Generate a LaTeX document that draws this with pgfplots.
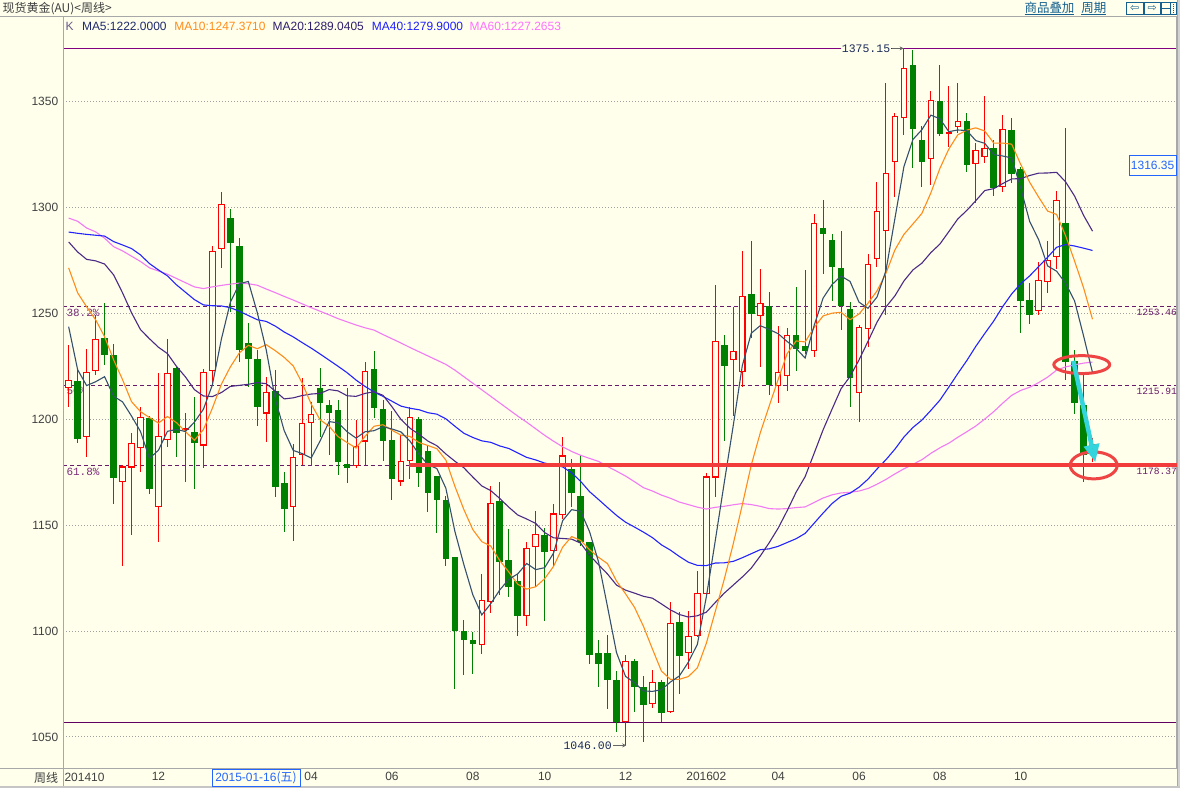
\documentclass[border=0pt]{standalone}
\usepackage{fontspec}
\setmainfont{Liberation Sans}
\newfontfamily\cjk{Noto Sans CJK SC}
\newfontfamily\mono{Liberation Mono}
\newfontfamily\djv{DejaVu Sans}
\usepackage{pgfplots}
\pgfplotsset{compat=1.18}
\usepackage{pgfplotstable}
\usetikzlibrary{arrows.meta}

\definecolor{bg}{HTML}{FFFFEC}
\definecolor{framec}{HTML}{A8A8A8}
\definecolor{gridc}{HTML}{A0A0A0}
\definecolor{levc}{HTML}{6A1A6A}
\definecolor{levtc}{HTML}{7A2A7A}
\definecolor{topc}{HTML}{800080}
\definecolor{botc}{HTML}{600060}
\definecolor{cred}{HTML}{FF0000}
\definecolor{cgreen}{HTML}{008000}
\definecolor{ma5c}{HTML}{34506E}
\definecolor{ma10c}{HTML}{FF8C1A}
\definecolor{ma20c}{HTML}{4B2A85}
\definecolor{ma40c}{HTML}{2323FF}
\definecolor{ma60c}{HTML}{F27AF2}
\definecolor{hlc}{HTML}{F23C3C}
\definecolor{ellc}{HTML}{EE4444}
\definecolor{arrowc}{HTML}{33D4DC}
\definecolor{tickc}{HTML}{404040}
\definecolor{linkc}{HTML}{15608F}
\definecolor{hlbox}{HTML}{2266FF}
\definecolor{navy}{HTML}{1A2A5A}
\definecolor{kc}{HTML}{6A5A8A}
\definecolor{ma5t}{HTML}{1E2A6E}
\definecolor{ma20t}{HTML}{2E1E6E}
\definecolor{ma40t}{HTML}{1E1EFF}
\definecolor{ma60t}{HTML}{FF70FF}

\pgfplotsset{candle/.style={only marks, mark=*, mark size=0pt,
  mark options={draw=none, fill=none},
  error bars/.cd, y dir=both, y explicit, error mark=none}}

% weekly candles, up (close > open)
\pgfplotstableread{
i O H L C
1 1214.9 1235.2 1206.0 1218.7
3 1191.4 1233.3 1182.4 1222.5
4 1222.9 1249.3 1221.0 1238.0
7 1170.2 1178.6 1130.6 1177.7
8 1177.2 1193.7 1145.2 1189.0
9 1186.2 1206.0 1174.9 1201.3
11 1158.4 1222.0 1141.9 1192.3
12 1190.4 1238.0 1187.1 1222.0
14 1195.1 1203.1 1170.2 1196.1
16 1187.6 1223.9 1177.2 1222.5
17 1222.9 1281.8 1216.8 1279.5
18 1280.4 1307.3 1271.5 1301.6
23 1202.7 1220.1 1189.5 1213.0
26 1158.4 1188.1 1142.4 1182.4
27 1182.9 1219.6 1178.6 1198.4
28 1198.4 1208.3 1177.7 1202.7
33 1177.7 1199.8 1176.8 1187.6
34 1189.5 1227.2 1178.6 1222.9
38 1170.6 1192.8 1168.3 1180.5
39 1180.5 1206.0 1171.6 1201.3
47 1093.4 1126.8 1089.1 1114.6
48 1113.6 1168.3 1108.4 1160.3
52 1107.0 1141.9 1102.3 1139.1
53 1139.5 1156.5 1120.7 1145.7
55 1137.6 1159.8 1130.1 1155.5
56 1154.6 1191.4 1152.7 1182.9
63 1057.1 1088.6 1046.0 1085.8
66 1065.5 1081.6 1063.7 1075.9
68 1061.8 1113.6 1061.3 1103.7
70 1089.6 1109.4 1082.0 1097.6
71 1097.6 1128.2 1097.1 1117.9
72 1117.4 1174.4 1116.4 1173.0
73 1172.5 1263.5 1163.1 1237.1
75 1228.1 1253.1 1201.7 1232.4
76 1222.5 1279.5 1215.4 1258.3
78 1248.8 1271.0 1224.8 1255.0
80 1215.9 1244.1 1207.9 1222.5
81 1220.6 1243.2 1213.5 1239.9
84 1232.4 1296.9 1229.5 1292.7
89 1212.6 1244.6 1198.9 1243.7
90 1242.7 1278.1 1234.2 1273.3
91 1275.7 1312.0 1271.9 1298.3
92 1288.9 1358.6 1249.3 1316.2
93 1321.4 1344.5 1304.9 1343.1
94 1342.1 1375.1 1334.1 1365.7
97 1322.8 1354.9 1310.6 1350.6
99 1334.6 1357.2 1328.5 1335.5
100 1337.9 1358.6 1335.1 1340.7
102 1320.5 1330.4 1302.1 1327.1
103 1323.8 1352.5 1320.9 1328.0
105 1309.6 1343.6 1307.3 1337.0
109 1251.2 1274.3 1249.3 1265.8
110 1264.9 1284.2 1259.7 1275.2
111 1276.7 1307.7 1271.0 1303.5
115 1184.0 1191.0 1180.0 1188.1
}\uptab

% weekly candles, down (close < open)
\pgfplotstableread{
i O H L C
2 1218.2 1223.4 1189.0 1190.9
5 1238.5 1255.0 1225.8 1230.5
6 1230.5 1235.7 1159.8 1172.5
10 1200.8 1201.7 1164.5 1166.9
13 1224.3 1224.8 1182.4 1193.7
15 1194.2 1210.7 1166.9 1189.0
19 1295.0 1299.3 1250.7 1283.2
20 1281.8 1285.6 1227.2 1232.8
21 1236.1 1245.5 1215.4 1228.6
22 1228.6 1232.8 1197.0 1206.0
24 1213.5 1223.4 1163.1 1167.8
25 1169.7 1175.3 1146.6 1157.4
29 1214.9 1224.3 1191.8 1207.9
30 1206.9 1209.3 1182.9 1203.1
31 1204.6 1209.3 1173.5 1179.6
32 1179.1 1214.9 1169.7 1177.2
35 1223.9 1232.4 1200.8 1205.5
36 1205.0 1209.3 1180.1 1189.5
37 1190.4 1204.1 1161.7 1171.6
40 1200.3 1201.3 1167.8 1174.4
41 1184.8 1187.6 1156.0 1165.4
42 1173.0 1173.0 1146.1 1162.1
43 1162.1 1163.6 1130.6 1133.9
44 1134.8 1134.8 1072.6 1099.9
45 1099.9 1105.1 1079.2 1095.7
46 1095.7 1099.5 1079.7 1093.8
49 1161.2 1170.2 1116.9 1132.5
50 1133.4 1148.0 1116.0 1120.7
51 1123.5 1126.8 1097.6 1107.0
54 1145.2 1148.5 1104.7 1137.2
57 1176.3 1181.0 1158.4 1165.4
58 1164.0 1182.9 1140.0 1141.9
59 1141.9 1141.9 1084.4 1088.6
60 1089.6 1095.7 1073.6 1084.4
61 1089.6 1098.1 1063.2 1076.9
62 1076.9 1081.1 1052.4 1057.1
64 1085.8 1086.8 1061.8 1073.6
65 1073.6 1078.7 1047.5 1065.1
67 1075.9 1076.9 1057.1 1061.3
69 1104.2 1108.9 1070.3 1088.2
74 1235.2 1239.9 1189.9 1225.3
77 1259.2 1284.2 1238.5 1249.8
79 1253.6 1260.2 1211.6 1216.3
82 1239.9 1262.5 1222.9 1233.3
83 1234.7 1270.5 1230.9 1232.4
85 1290.3 1303.5 1268.6 1287.5
86 1284.7 1287.5 1255.9 1271.9
87 1271.5 1288.9 1242.2 1253.6
88 1252.1 1255.4 1206.0 1219.6
95 1367.1 1374.5 1318.6 1337.0
96 1331.8 1338.4 1309.6 1321.4
98 1350.2 1367.1 1333.7 1334.6
101 1340.7 1344.5 1316.7 1320.0
104 1328.0 1331.8 1305.4 1309.2
106 1336.5 1342.1 1311.5 1315.8
107 1318.1 1319.1 1240.8 1255.9
108 1256.4 1264.4 1245.1 1249.3
112 1292.7 1337.4 1218.7 1227.2
113 1227.6 1232.8 1202.7 1207.9
114 1206.9 1221.0 1170.2 1183.3
}\downtab

% moving averages
\pgfplotstableread{
i m5 m10 m20 m40 m60
1 1243.7 1271.5 1283.7 1288.4 1295.0
2 1223.4 1259.7 1279.0 1287.8 1293.5
3 1215.9 1253.1 1275.5 1287.3 1290.3
4 1217.7 1247.0 1274.8 1286.9 1288.5
5 1220.1 1239.0 1273.3 1286.5 1285.5
6 1210.9 1228.1 1268.2 1283.9 1281.5
7 1208.2 1218.7 1259.7 1282.3 1279.5
8 1201.5 1208.3 1250.3 1280.6 1277.0
9 1194.2 1203.6 1242.3 1277.6 1274.5
10 1181.5 1200.8 1238.0 1273.5 1271.5
11 1185.4 1198.2 1234.0 1270.5 1270.0
12 1194.3 1201.3 1231.0 1267.7 1268.5
13 1195.2 1198.4 1225.0 1263.5 1266.5
14 1194.2 1194.2 1220.0 1260.0 1264.5
15 1198.6 1190.1 1214.0 1256.5 1262.5
16 1204.7 1195.1 1211.0 1254.0 1261.7
17 1216.2 1205.2 1210.7 1253.6 1262.5
18 1237.7 1216.5 1212.6 1253.5 1263.2
19 1255.2 1224.7 1215.5 1252.7 1263.8
20 1263.9 1231.3 1216.0 1251.0 1264.3
21 1265.1 1234.9 1216.5 1249.0 1264.0
22 1250.4 1233.3 1217.3 1247.0 1263.3
23 1232.7 1235.2 1216.8 1246.2 1261.5
24 1209.6 1232.4 1213.3 1244.0 1259.8
25 1194.6 1229.2 1209.6 1241.2 1258.0
26 1185.3 1225.2 1210.1 1238.9 1256.3
27 1183.8 1217.1 1211.2 1236.2 1254.5
28 1181.7 1207.2 1211.9 1233.6 1252.7
29 1189.8 1199.7 1212.2 1230.8 1251.0
30 1198.9 1196.7 1214.0 1227.9 1249.3
31 1198.3 1191.8 1213.4 1225.0 1247.5
32 1194.1 1189.0 1211.1 1222.0 1246.0
33 1191.1 1186.4 1210.8 1218.5 1244.5
34 1194.1 1191.9 1212.2 1215.5 1243.2
35 1194.6 1196.7 1213.0 1212.9 1242.1
36 1196.5 1197.4 1211.3 1210.8 1240.0
37 1195.4 1194.8 1205.9 1208.5 1238.0
38 1194.0 1192.5 1199.9 1206.2 1236.0
39 1189.7 1191.9 1195.8 1205.2 1233.9
40 1183.5 1189.0 1192.9 1204.5 1231.9
41 1178.6 1187.6 1189.7 1203.1 1229.9
42 1176.7 1186.1 1187.5 1202.4 1227.9
43 1167.4 1180.7 1183.6 1200.2 1225.9
44 1147.1 1168.4 1180.2 1196.7 1223.2
45 1131.4 1157.4 1177.1 1193.4 1220.1
46 1117.1 1147.9 1172.7 1191.4 1217.0
47 1107.6 1142.2 1168.5 1189.8 1213.9
48 1112.9 1140.1 1166.3 1189.1 1210.8
49 1119.4 1133.3 1162.6 1187.4 1207.7
50 1124.4 1127.9 1158.5 1186.2 1204.6
51 1127.0 1122.1 1154.8 1184.1 1201.5
52 1131.9 1119.8 1152.9 1182.0 1198.6
53 1129.0 1120.9 1150.8 1180.8 1195.5
54 1129.9 1124.7 1146.5 1179.3 1192.4
55 1136.9 1130.6 1144.0 1178.5 1189.6
56 1152.1 1139.6 1143.7 1177.5 1187.0
57 1157.3 1144.6 1143.4 1174.7 1184.8
58 1156.6 1142.8 1141.5 1170.7 1183.0
59 1146.9 1138.4 1135.8 1165.8 1181.5
60 1132.6 1134.8 1131.3 1162.1 1180.1
61 1111.4 1131.8 1126.9 1158.3 1177.7
62 1089.8 1123.6 1121.7 1154.6 1175.5
63 1078.6 1117.6 1119.3 1151.4 1173.2
64 1075.6 1111.2 1117.9 1149.1 1170.5
65 1071.7 1102.2 1116.4 1146.7 1167.7
66 1071.5 1091.5 1115.5 1144.1 1166.1
67 1072.3 1081.1 1112.8 1140.7 1164.2
68 1075.9 1077.2 1110.0 1138.2 1162.7
69 1078.8 1077.2 1107.8 1135.2 1160.9
70 1085.3 1078.5 1106.6 1132.5 1159.7
71 1093.7 1082.6 1107.2 1131.0 1158.5
72 1116.1 1094.2 1108.9 1130.9 1157.6
73 1142.8 1109.3 1113.5 1132.1 1158.4
74 1170.2 1124.5 1117.9 1132.2 1158.9
75 1197.1 1141.2 1121.7 1132.9 1159.6
76 1225.2 1159.5 1125.5 1134.6 1160.2
77 1240.6 1178.3 1129.7 1136.5 1159.7
78 1244.2 1193.5 1135.4 1138.4 1158.9
79 1242.4 1206.3 1141.7 1138.8 1157.8
80 1240.4 1218.8 1148.6 1140.0 1157.6
81 1236.7 1231.0 1156.8 1141.8 1157.8
82 1233.4 1237.0 1165.6 1143.6 1158.3
83 1228.9 1236.5 1172.9 1146.1 1158.6
84 1244.2 1243.3 1183.9 1150.9 1160.7
85 1257.2 1248.8 1195.0 1155.7 1162.8
86 1263.6 1250.1 1204.8 1160.2 1164.3
87 1267.6 1250.5 1214.4 1163.6 1165.2
88 1265.1 1247.0 1220.2 1165.1 1165.5
89 1255.3 1249.7 1228.0 1167.9 1166.1
90 1252.4 1254.8 1236.8 1171.7 1167.3
91 1257.7 1260.6 1245.8 1176.5 1169.3
92 1270.2 1268.9 1253.0 1180.9 1171.6
93 1294.9 1280.0 1258.3 1185.9 1174.2
94 1319.3 1287.3 1265.3 1191.6 1176.6
95 1332.1 1292.2 1270.5 1196.1 1178.7
96 1336.7 1297.2 1273.7 1199.6 1180.9
97 1343.6 1306.9 1278.7 1204.2 1183.9
98 1341.9 1318.4 1282.7 1209.0 1186.5
99 1335.8 1327.6 1288.6 1215.2 1188.7
100 1336.6 1334.3 1294.6 1221.6 1191.5
101 1336.3 1336.5 1298.6 1227.7 1194.1
102 1331.6 1337.6 1303.2 1234.4 1196.8
103 1330.3 1336.1 1308.0 1240.5 1200.1
104 1325.0 1330.4 1308.9 1246.4 1203.6
105 1324.3 1330.4 1311.3 1253.2 1207.6
106 1323.4 1329.9 1313.5 1259.2 1211.3
107 1309.2 1320.4 1313.6 1264.0 1213.6
108 1293.4 1311.9 1315.1 1267.7 1215.1
109 1284.8 1304.9 1316.2 1272.1 1217.3
110 1272.4 1298.3 1316.3 1276.5 1219.9
111 1269.9 1296.7 1316.6 1281.2 1223.2
112 1264.2 1286.7 1312.1 1282.5 1224.7
113 1255.9 1274.7 1305.4 1281.8 1225.7
114 1239.4 1262.1 1296.3 1280.8 1226.5
115 1222.0 1247.2 1288.8 1279.7 1227.0
}\matab

\begin{document}
\begin{tikzpicture}
\begin{scope}[x=1pt,y=1pt]
\useasboundingbox (0,0) rectangle (1182,789);
\fill[bg] (0,0) rectangle (1182,789);
% level labels (under the candles)
\begin{scope}[every node/.style={inner sep=0pt, text=levtc, font=\mono\fontsize{11}{12}\selectfont}]
\node[anchor=west] at (66,476) {38.2\%};
\node[anchor=west] at (66,398) {50\%};
\node[anchor=west] at (66,317) {61.8\%};
\end{scope}
\end{scope}

\begin{axis}[
  at={(63pt,19pt)}, anchor=south west,
  scale only axis, width=1115pt, height=754pt,
  xmin=0.411, xmax=124.3, ymin=1034.9, ymax=1390.2,
  clip=false,
  axis line style={draw=framec, line width=1pt},
  ytick={1050,1100,1150,1200,1250,1300,1350},
  ymajorgrids, grid style={gridc, line width=0.9pt, dash pattern=on 1pt off 2pt},
  xtick={11,28,37,46,54,63,72,80,89,98,107},
  xticklabels={12,04,06,08,10,12,201602,04,06,08,10},
  major tick length=0pt,
  tick style={draw=none},
  ticklabel style={font=\fontsize{12}{14}\selectfont, text=tickc},
  /pgf/number format/assume math mode=true,
  /pgf/number format/set thousands separator={},
  yticklabel style={anchor=east, inner sep=0pt, xshift=-5pt},
  xticklabel style={anchor=north, inner sep=0pt, yshift=-3.5pt},
]
% Fibonacci levels and extreme lines
\addplot[levc, line width=1pt, dash pattern=on 4pt off 3pt] coordinates {(0.411,1253.46) (124.3,1253.46)};
\addplot[levc, line width=1pt, dash pattern=on 4pt off 3pt] coordinates {(0.411,1215.91) (124.3,1215.91)};
\addplot[levc, line width=1pt, dash pattern=on 4pt off 3pt] coordinates {(0.411,1178.37) (124.3,1178.37)};
\addplot[topc, line width=1pt] coordinates {(0.411,1375.15) (124.3,1375.15)};
\addplot[botc, line width=1pt] coordinates {(0.411,1057.0) (124.3,1057.0)};

% wicks
\addplot[candle, error bar style={draw=cred, line width=1pt}]
  table[x=i, y expr={(\thisrow{H}+\thisrow{L})/2}, y error expr={(\thisrow{H}-\thisrow{L})/2}] {\uptab};
\addplot[candle, error bar style={draw=cgreen, line width=1pt}]
  table[x=i, y expr={(\thisrow{H}+\thisrow{L})/2}, y error expr={(\thisrow{H}-\thisrow{L})/2}] {\downtab};
% bodies
\addplot[candle, error bar style={draw=cgreen, line width=6.6pt}]
  table[x=i, y expr={(\thisrow{O}+\thisrow{C})/2}, y error expr={max(abs(\thisrow{O}-\thisrow{C})/2,0.5)}] {\downtab};
\addplot[candle, error bar style={draw=cred, line width=6.6pt}]
  table[x=i, y expr={(\thisrow{O}+\thisrow{C})/2}, y error expr={max(abs(\thisrow{O}-\thisrow{C})/2,0.5)}] {\uptab};
\addplot[candle, error bar style={draw=bg, line width=4.4pt}]
  table[x=i, y expr={(\thisrow{O}+\thisrow{C})/2}, y error expr={max(abs(\thisrow{O}-\thisrow{C})/2-0.5,0)}] {\uptab};

% moving averages
\addplot[ma60c, line width=1.1pt, mark=none] table[x=i, y=m60] {\matab};
\addplot[ma40c, line width=1.1pt, mark=none] table[x=i, y=m40] {\matab};
\addplot[ma20c, line width=1.1pt, mark=none] table[x=i, y=m20] {\matab};
\addplot[ma10c, line width=1.1pt, mark=none] table[x=i, y=m10] {\matab};
\addplot[ma5c, line width=1.1pt, mark=none] table[x=i, y=m5] {\matab};

% thick red support line
\addplot[hlc, line width=4pt, mark=none] coordinates {(38.86,1178.37) (124.74,1178.37)};

% annotations
\draw[ellc, line width=3pt] (axis cs:113.8,1225.8) ellipse [x radius=28pt, y radius=9pt];
\draw[ellc, line width=3pt] (axis cs:115.13,1178.2) ellipse [x radius=23.5pt, y radius=13.5pt];
\draw[arrowc, line width=4.5pt, -{Triangle[length=18pt, width=15pt]}] (axis cs:112.86,1227.6) -- (axis cs:115.31,1179.6);
\end{axis}

\begin{scope}[x=1pt,y=1pt]
% frame lines
\draw[framec, line width=1pt] (0,773) -- (1182,773);
\draw[framec, line width=1pt] (0,19) -- (1182,19);
\draw[framec, line width=1pt] (63,1) -- (63,773);
\draw[framec, line width=1pt] (1179.5,0) -- (1179.5,789);
\fill[gray!35] (1180,0) rectangle (1182,789);
\fill[gray!45] (0,0) rectangle (1182,2);
% right level labels
\begin{scope}[every node/.style={inner sep=0pt, text=levc, font=\mono\fontsize{9.6}{11}\selectfont}]
\node[anchor=east] at (1179,476.5) {1253.46};
\node[anchor=east] at (1179,397.3) {1215.91};
\node[anchor=east] at (1179,317) {1178.37};
\end{scope}
% header
\node[anchor=west, inner sep=0pt, text=tickc, font=\cjk\fontsize{12}{14}\selectfont] at (2,781) {现货黄金(AU)<周线>};
\node[anchor=west, inner sep=0pt, text=linkc, font=\cjk\fontsize{12.5}{14}\selectfont] at (1026,781) {\underline{商品叠加}};
\node[anchor=west, inner sep=0pt, text=linkc, font=\cjk\fontsize{12.5}{14}\selectfont] at (1083,781) {\underline{周期}};
\draw[linkc, line width=0.8pt] (1128,775) rectangle (1145,787) (1146,775) rectangle (1162,787) (1163,775) rectangle (1178,787);
\node[inner sep=0pt, text=linkc, font=\djv\fontsize{11}{11}\selectfont] at (1136.5,781) {⇦};
\node[inner sep=0pt, text=linkc, font=\djv\fontsize{11}{11}\selectfont] at (1154,781) {⇨};
\draw[linkc, line width=0.8pt] (1163,781) -- (1172,781) (1172,775) -- (1172,787);
\draw[linkc, line width=0.8pt, dash pattern=on 1pt off 1pt] (1175,776) -- (1175,786);
% MA legend
\begin{scope}[every node/.style={anchor=west, inner sep=0pt, font=\fontsize{12}{14}\selectfont}]
\node[text=kc] at (65,763) {K};
\node[text=ma5t] at (81.5,763) {MA5:1222.0000};
\node[text=ma10c] at (174,763) {MA10:1247.3710};
\node[text=ma20t] at (272.5,763) {MA20:1289.0405};
\node[text=ma40t] at (372,763) {MA40:1279.9000};
\node[text=ma60t] at (470,763) {MA60:1227.2653};
\end{scope}
% extreme labels
\node[anchor=west, inner sep=1pt, fill=bg, text=navy, font=\mono\fontsize{11.5}{12}\selectfont] at (842,741) {1375.15};
\draw[gray!80!black, line width=0.8pt, -{Stealth[length=4pt,width=4pt]}] (893,741) -- (905,741);
\node[anchor=west, inner sep=1pt, fill=bg, text=navy, font=\mono\fontsize{11.5}{12}\selectfont] at (563,42.5) {1046.00};
\draw[gray!80!black, line width=0.8pt, -{Stealth[length=4pt,width=4pt]}] (614,42.5) -- (627,42.5);
% cursor value box
\node[draw=hlbox, fill=bg, text=hlbox, inner sep=0pt, minimum width=47pt, minimum height=20pt, font=\fontsize{12}{14}\selectfont] at (1154.5,623.5) {1316.35};
% bottom labels
\node[anchor=east, inner sep=0pt, text=tickc, font=\cjk\fontsize{12}{14}\selectfont] at (58,10) {周线};
\node[anchor=west, inner sep=0pt, text=tickc, font=\fontsize{12}{14}\selectfont] at (64,10) {201410};
\node[draw=hlbox, fill=bg, text=hlbox, inner sep=0pt, minimum width=88pt, minimum height=17pt, font=\fontsize{12}{14}\selectfont] at (256,10) {2015-01-16{\cjk(五)}};
\end{scope}
\end{tikzpicture}
\end{document}
